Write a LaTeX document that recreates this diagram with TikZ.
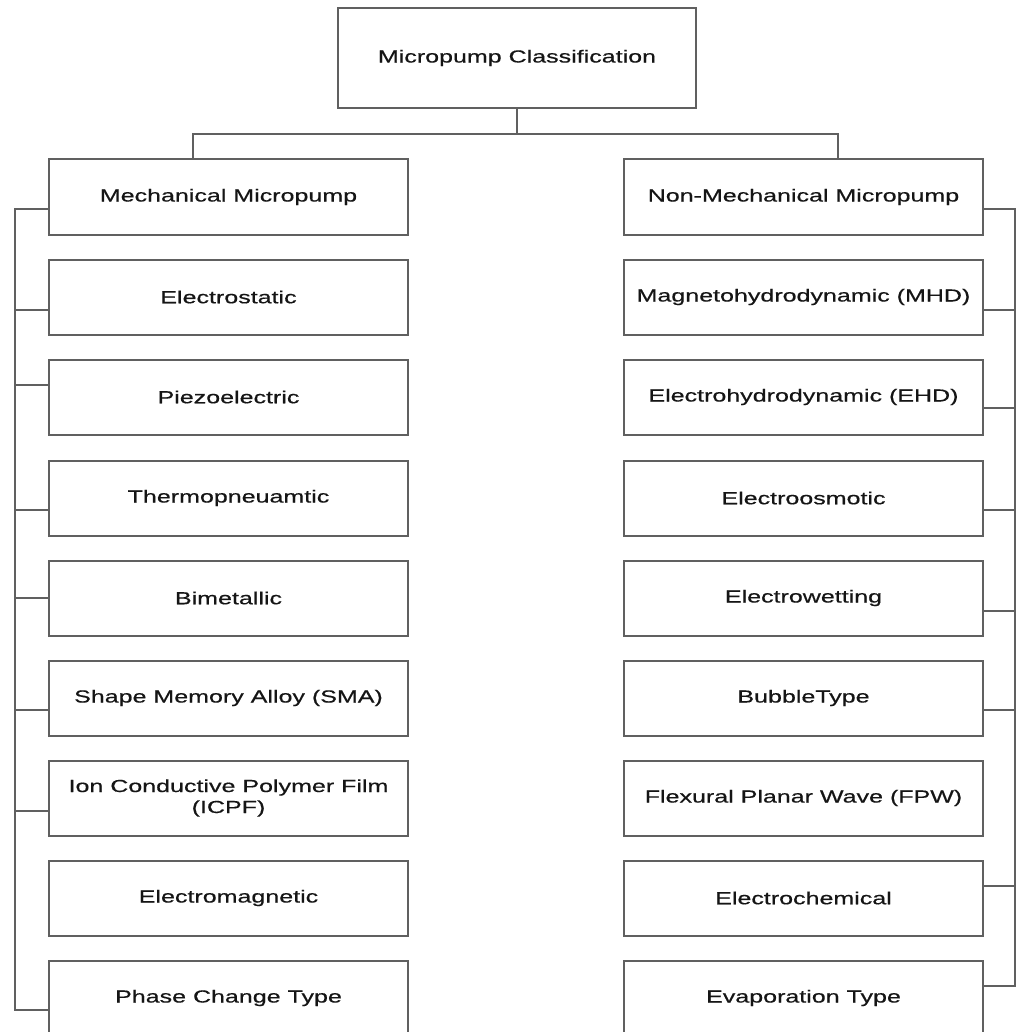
\documentclass[tikz,border=0pt]{standalone}
\usepackage{fontspec}
\setmainfont{Liberation Sans}[FakeStretch=1.43,FakeBold=0.5]
\usetikzlibrary{calc}
\definecolor{linegray}{HTML}{606060}
\definecolor{textgray}{HTML}{151515}
\begin{document}
\begin{tikzpicture}[x=1pt,y=-1pt,
  box/.style={draw=linegray,line width=2pt,rectangle,minimum width=359pt,minimum height=75pt,
    inner sep=0pt,align=center,text=textgray,font=\fontsize{17.5}{21}\selectfont},
  topbox/.style={box,minimum width=358pt,minimum height=100pt},
  conn/.style={draw=linegray,line width=2pt}]
\useasboundingbox (0,0) rectangle (1016,1032);
\clip (0,0) rectangle (1016,1032);
\fill[white] (0,0) rectangle (1016,1032);

\node[topbox] (top) at (517,58) {Micropump Classification};

\node[box] (L0) at (228.5,197) {Mechanical Micropump};
\node[box] (L1) at (228.5,297) {Electrostatic};
\node[box] (L2) at (228.5,397) {Piezoelectric};
\node[box] (L3) at (228.5,498) {Thermopneuamtic};
\node[box] (L4) at (228.5,598) {Bimetallic};
\node[box] (L5) at (228.5,698) {Shape Memory Alloy (SMA)};
\node[box] (L6) at (228.5,798) {Ion Conductive Polymer Film\\(ICPF)};
\node[box] (L7) at (228.5,898) {Electromagnetic};
\node[box] (L8) at (228.5,998) {Phase Change Type};

\node[box] (R0) at (803.5,197) {Non-Mechanical Micropump};
\node[box] (R1) at (803.5,297) {Magnetohydrodynamic (MHD)};
\node[box] (R2) at (803.5,397) {Electrohydrodynamic (EHD)};
\node[box] (R3) at (803.5,498) {Electroosmotic};
\node[box] (R4) at (803.5,598) {Electrowetting};
\node[box] (R5) at (803.5,698) {BubbleType};
\node[box] (R6) at (803.5,798) {Flexural Planar Wave (FPW)};
\node[box] (R7) at (803.5,898) {Electrochemical};
\node[box] (R8) at (803.5,998) {Evaporation Type};

% top tree
\coordinate (bus) at (517,134);
\coordinate (dl) at (193,134);
\coordinate (dr) at (838,134);
\draw[conn] (top.south) -- (bus);
\draw[conn] (dl |- L0.north) -- (dl) -- (dr) -- (dr |- R0.north);

% left bus
\coordinate (LB) at (15,0);
\coordinate (cL0) at ([yshift=-12pt]L0.west);
\coordinate (cL1) at ([yshift=-13pt]L1.west);
\coordinate (cL2) at ([yshift=12pt]L2.west);
\coordinate (cL3) at ([yshift=-12pt]L3.west);
\coordinate (cL4) at ([yshift=0pt]L4.west);
\coordinate (cL5) at ([yshift=-12pt]L5.west);
\coordinate (cL6) at ([yshift=-13pt]L6.west);
\coordinate (cL8) at ([yshift=-12pt]L8.west);
\draw[conn] (cL0) -- (cL0 -| LB) -- (cL8 -| LB) -- (cL8);
\foreach \c in {cL1,cL2,cL3,cL4,cL5,cL6}{
  \draw[conn] (\c) -- (\c -| LB);
}

% right bus
\coordinate (RB) at (1015,0);
\coordinate (cR0) at ([yshift=-12pt]R0.east);
\coordinate (cR1) at ([yshift=-13pt]R1.east);
\coordinate (cR2) at ([yshift=-11pt]R2.east);
\coordinate (cR3) at ([yshift=-12pt]R3.east);
\coordinate (cR4) at ([yshift=-13pt]R4.east);
\coordinate (cR5) at ([yshift=-12pt]R5.east);
\coordinate (cR7) at ([yshift=12pt]R7.east);
\coordinate (cR8) at ([yshift=12pt]R8.east);
\draw[conn] (cR0) -- (cR0 -| RB) -- (cR8 -| RB) -- (cR8);
\foreach \c in {cR1,cR2,cR3,cR4,cR5,cR7}{
  \draw[conn] (\c) -- (\c -| RB);
}
\end{tikzpicture}
\end{document}
